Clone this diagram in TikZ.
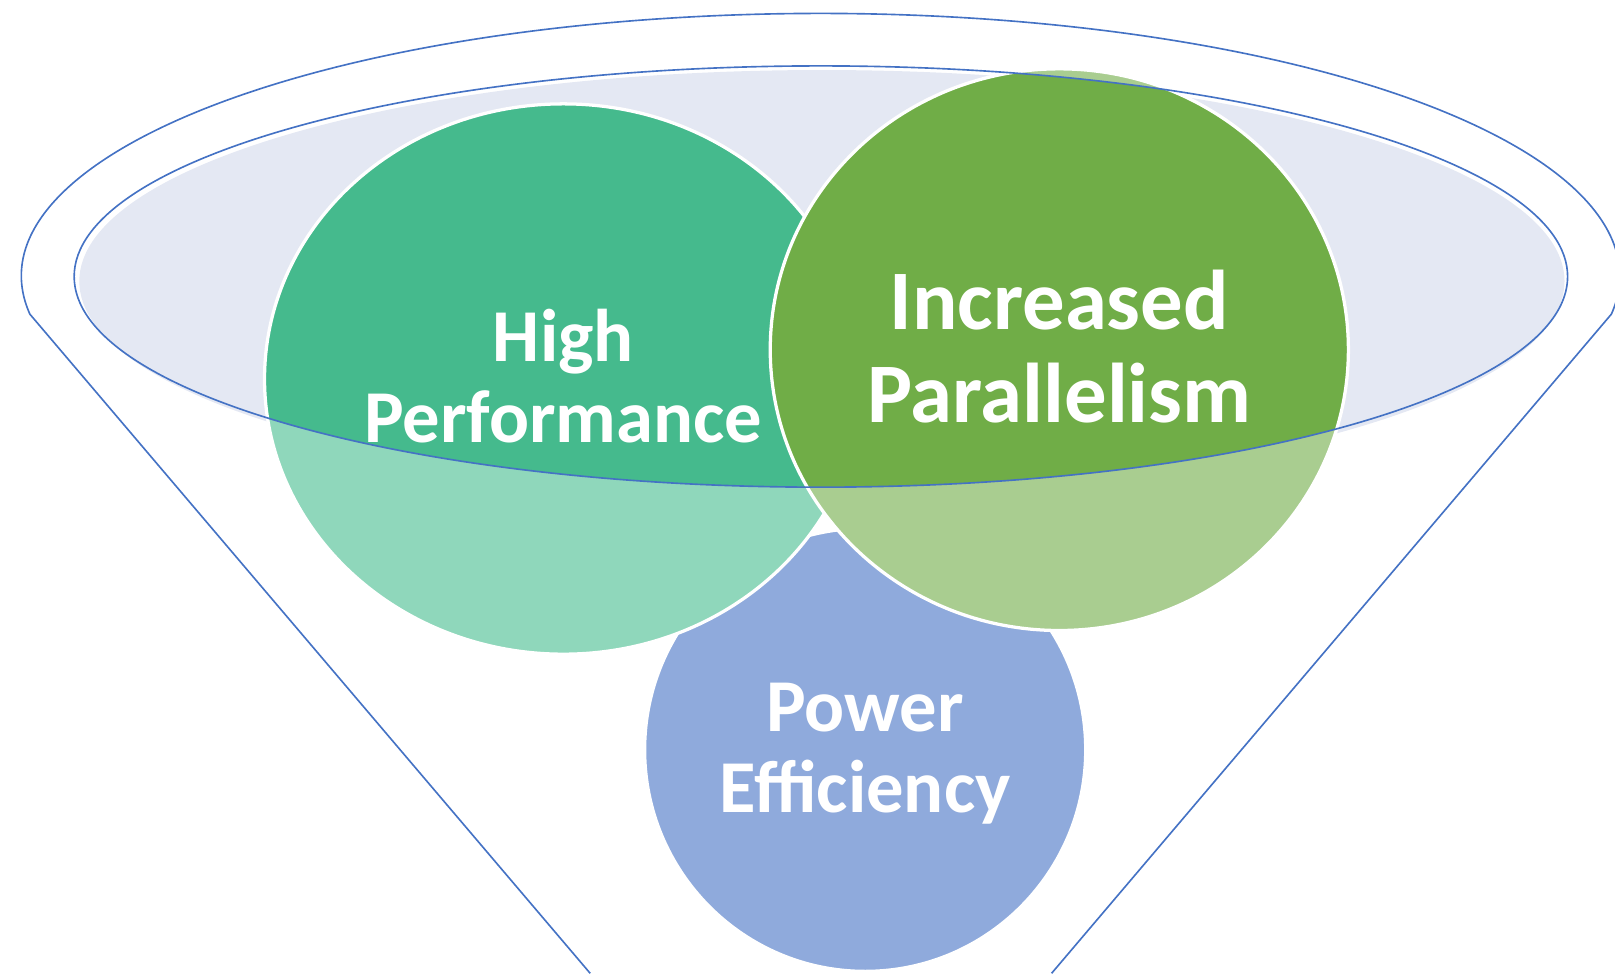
\documentclass[tikz,border=0pt]{standalone}
\usepackage{fontspec}
\setmainfont{Carlito}
\definecolor{fnLine}{HTML}{4472C4}
\definecolor{fnMouth}{HTML}{E4E8F3}
\definecolor{fnTeal}{HTML}{45BA8D}
\definecolor{fnTealLt}{HTML}{8FD7BB}
\definecolor{fnGreen}{HTML}{70AD47}
\definecolor{fnGreenLt}{HTML}{A9CD90}
\definecolor{fnBlue}{HTML}{8FAADC}
\usetikzlibrary{shapes.geometric}

\begin{document}
\begin{tikzpicture}[x=0.01cm, y=0.01cm,
  blob/.style={ellipse, inner sep=0pt, draw=white, line width=0.9pt},
  lbl/.style={text=white, align=center, inner sep=0pt, font=\bfseries\fontsize{20.6}{22.3}\selectfont},
  rim/.style={draw=fnLine, line width=0.45pt}]

  \useasboundingbox (0,0) rectangle (1568,945);
  \coordinate (mouth) at (797,676.5);

  % funnel body and its rim
  \draw[rim] (573,0) -- (29,640) arc[start angle=188.34, end angle=-8.34, x radius=776, y radius=255] -- (1021,0);
  \fill[fnMouth] (798,672) ellipse[x radius=721, y radius=205];

  % the three balls, darker where they sit inside the mouth
  \node[blob, fill=fnBlue, minimum width=4.28cm, minimum height=4.30cm] (power) at (840,217) {};
  \node[blob, fill=fnTealLt, minimum width=5.80cm, minimum height=5.34cm,
    path picture={\fill[fnTeal] (mouth) ellipse[x radius=725, y radius=204.5];}] (perf) at (547,577) {};
  \node[blob, fill=fnGreenLt, minimum width=5.61cm, minimum height=5.45cm,
    path picture={\fill[fnGreen] (mouth) ellipse[x radius=725, y radius=204.5];}] (par) at (1028.5,605.5) {};

  \draw[rim] (mouth) ellipse[x radius=725, y radius=204.5];

  \node[lbl, yshift=0.03cm] (perf-txt) at (perf) {High\\Performance};
  \node[lbl, yshift=0.03cm, font=\bfseries\fontsize{23.4}{25.6}\selectfont] (par-txt) at (par) {Increased\\Parallelism};
  \node[lbl, yshift=-0.04cm] (power-txt) at (power) {Power\\Efficiency};
\end{tikzpicture}
\end{document}
